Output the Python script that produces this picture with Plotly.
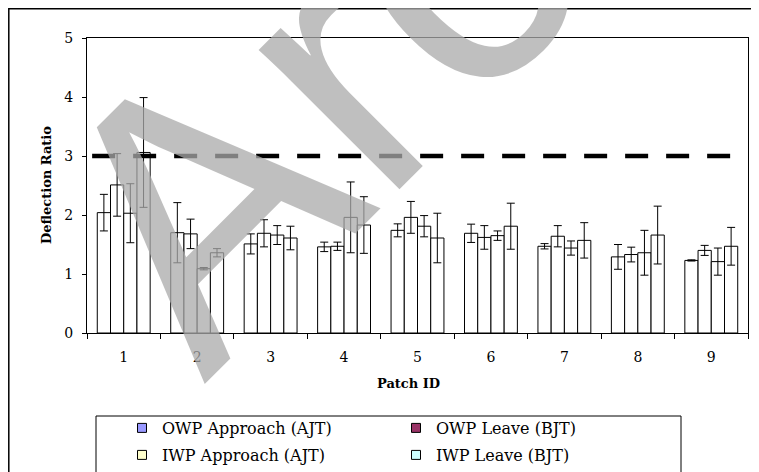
import plotly.graph_objects as go

patch_ids = ["1", "2", "3", "4", "5", "6", "7", "8", "9"]

owp_approach = [2.04, 1.70, 1.51, 1.46, 1.74, 1.69, 1.47, 1.29, 1.23]
owp_approach_err = [0.31, 0.51, 0.17, 0.08, 0.11, 0.155, 0.045, 0.21, 0.01]
owp_leave = [2.51, 1.68, 1.69, 1.47, 1.96, 1.62, 1.64, 1.33, 1.40]
owp_leave_err = [0.53, 0.25, 0.23, 0.07, 0.27, 0.20, 0.18, 0.125, 0.085]
iwp_approach = [2.03, 1.09, 1.66, 1.96, 1.81, 1.65, 1.44, 1.36, 1.21]
iwp_approach_err = [0.50, 0.02, 0.16, 0.60, 0.18, 0.08, 0.12, 0.38, 0.23]
iwp_leave = [3.06, 1.36, 1.61, 1.83, 1.61, 1.81, 1.57, 1.66, 1.47]
iwp_leave_err = [0.93, 0.07, 0.20, 0.48, 0.42, 0.39, 0.30, 0.49, 0.32]

series_names = ["OWP Approach (AJT)", "OWP Leave (BJT)", "IWP Approach (AJT)", "IWP Leave (BJT)"]
series_colors = ["#9999FF", "#993366", "#FFFFCC", "#CCFFFF"]
threshold = 3

values = [owp_approach, owp_leave, iwp_approach, iwp_leave]
errors = [owp_approach_err, owp_leave_err, iwp_approach_err, iwp_leave_err]

W, H = 759, 472
OFF = 8  # page offset of the figure inside the browser window
# plot area in window pixels: x 87..748, y 38..333
ML = 87 - OFF
MT = 38 - OFF
MR = W - (748 - OFF)
MB = H - (333 - OFF)
PW, PH = W - ML - MR, H - MT - MB


def px_x(p):
    return (p - OFF - ML) / PW


def px_y(p):
    return (H - MB - (p - OFF)) / PH


SERIF = "DejaVu Serif"

fig = go.Figure()
for name, v, e in zip(series_names, values, errors):
    fig.add_trace(go.Bar(
        x=patch_ids, y=v, name=name, showlegend=False,
        marker=dict(color="white", line=dict(color="black", width=1)),
        error_y=dict(type="data", array=e, color="black", thickness=1, width=4),
    ))

legend_ids = ["legend", "legend", "legend2", "legend2"]
for name, c, lg in zip(series_names, series_colors, legend_ids):
    fig.add_trace(go.Scatter(
        x=[None], y=[None], mode="markers", name=name, legend=lg,
        marker=dict(symbol="square", size=9, color=c, line=dict(color="black", width=1)),
    ))

legend_common = dict(
    orientation="h", xanchor="left", yanchor="middle",
    entrywidth=229, entrywidthmode="pixels",
    font=dict(family=SERIF, size=16, color="black"),
    bgcolor="rgba(0,0,0,0)", borderwidth=0,
)

fig.update_layout(
    width=W, height=H,
    margin=dict(l=ML, r=MR, t=MT, b=MB, autoexpand=False),
    paper_bgcolor="white", plot_bgcolor="white",
    barmode="group", bargap=0.28, bargroupgap=0,
    font=dict(family=SERIF, size=14, color="black"),
    legend=dict(x=px_x(122), y=px_y(428), **legend_common),
    legend2=dict(x=px_x(122), y=px_y(455), **legend_common),
    xaxis=dict(
        type="category", tickson="boundaries", ticks="outside", ticklen=5,
        tickcolor="black", showline=True, linecolor="black", linewidth=1,
        mirror=True, showgrid=False, ticklabelstandoff=11,
        tickfont=dict(family=SERIF, size=14, color="black"),
    ),
    yaxis=dict(
        range=[0, 5], dtick=1, ticks="outside", ticklen=4, tickcolor="black",
        showline=True, linecolor="black", linewidth=1, mirror=True,
        showgrid=False, zeroline=False, ticklabelstandoff=6,
        tickfont=dict(family=SERIF, size=14, color="black"),
    ),
    shapes=[
        dict(type="line", xref="x", yref="y", x0=-0.43, x1=8.35, y0=threshold, y1=threshold,
             line=dict(color="black", width=4.5, dash="23px,18px")),
        dict(type="rect", xref="paper", yref="paper",
             x0=px_x(8.8), x1=px_x(790), y0=px_y(520), y1=px_y(8.8),
             line=dict(color="black", width=1.5), fillcolor="rgba(0,0,0,0)"),
        dict(type="rect", xref="paper", yref="paper",
             x0=px_x(96), x1=px_x(681), y0=px_y(520), y1=px_y(416),
             line=dict(color="black", width=1), fillcolor="rgba(0,0,0,0)"),
    ],
    annotations=[
        dict(text="<b>Deflection Ratio</b>", xref="paper", yref="paper",
             x=px_x(46), y=px_y(185), textangle=-90, showarrow=False,
             xanchor="center", yanchor="middle",
             font=dict(family=SERIF, size=13, color="black")),
        dict(text="<b>Patch ID</b>", xref="paper", yref="paper",
             x=px_x(408), y=px_y(383), showarrow=False,
             xanchor="center", yanchor="middle",
             font=dict(family=SERIF, size=13, color="black")),
        dict(text="Arc", xref="paper", yref="paper",
             x=px_x(311), y=px_y(94), textangle=-45, showarrow=False,
             xanchor="center", yanchor="middle",
             font=dict(family="Liberation Sans, Arial", size=375, color="rgba(170,170,170,0.75)")),
    ],
)

fig.write_html("out.html")
